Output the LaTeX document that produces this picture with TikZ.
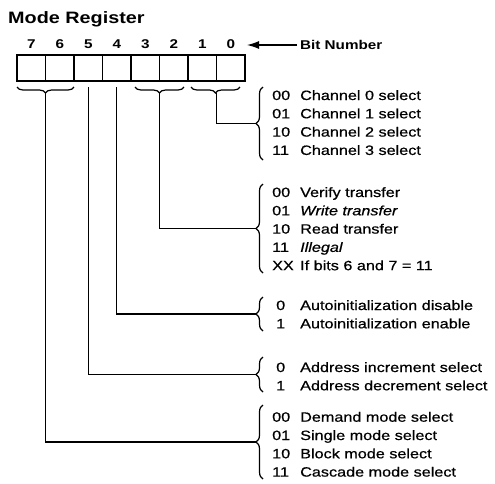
\documentclass[tikz,border=0pt]{standalone}
\usepackage{fontspec}
\setmainfont{Liberation Sans}[FakeStretch=1.2, UprightFeatures={FakeBold=0.6}, ItalicFeatures={FakeBold=0.6}]
\usetikzlibrary{arrows.meta, decorations.pathreplacing, positioning}
\tikzset{
	cell/.style={draw, line width=1.2pt, minimum width=28.5pt, minimum height=26pt, inner sep=0pt, outer sep=0pt},
	bitno/.style={font=\fontsize{12.7}{15}\selectfont\bfseries, inner sep=0pt},
	code/.style={font=\fontsize{13.5}{16}\selectfont, anchor=base west, inner sep=0pt},
	desc/.style={font=\fontsize{13.5}{16}\selectfont, anchor=base west, inner sep=0pt},
	wire/.style={line width=1.2pt},
	ubrace/.style={line width=1.2pt, decorate, decoration={brace, amplitude=6pt}},
	rbrace/.style={line width=1.2pt, decorate, decoration={brace, amplitude=7pt}},
	pointer/.style={line width=1.2pt, -{Latex[length=12pt, width=8pt]}},
}
\begin{document}
\begin{tikzpicture}[x=1pt, y=-1pt]
	\useasboundingbox (0,0) rectangle (495,483);
	\node[anchor=base west, inner sep=0pt, font=\fontsize{16.5}{19}\selectfont\bfseries] (title) at (8,23) {Mode Register};
	% the register cells, bit 7 on the left
	\foreach \b in {7,...,0} {
		\node[cell] (b\b) at ({31.25+28.5*(7-\b)},68) {};
		\node[bitno, above=6pt of b\b] (n\b) {\b};
	}
	\node[anchor=west, inner sep=3pt, font=\fontsize{12.7}{15}\selectfont\bfseries] (bitnum) at (297,45) {Bit Number};
	\draw[pointer] (bitnum.west) -- ([xshift=2pt]bitnum.west -| b0.east);
	% braces under the cells
	\draw[ubrace] ([yshift=-6pt]b6.south east) -- ([yshift=-6pt]b7.south west);
	\draw[ubrace] ([xshift=-4pt,yshift=-6pt]b2.south east) -- ([xshift=4pt,yshift=-6pt]b3.south west);
	\draw[ubrace] ([xshift=-5pt,yshift=-6pt]b0.south east) -- ([xshift=3pt,yshift=-6pt]b1.south west);
	\coordinate[below=12pt of b7.south east] (u76);
	\coordinate[below=12pt of b3.south east] (u32);
	\coordinate[below=12pt of b1.south east] (u10);
	\coordinate[below=6pt of b5.south] (u5);
	\coordinate[below=6pt of b4.south] (u4);
	% bits 1-0
	\draw[rbrace] (263,160) -- (263,87);
	\coordinate (k10) at (256,123.5);
	\draw[wire] (u10) |- (k10);
	\foreach \c/\t [count=\i] in {00/Channel 0 select, 01/Channel 1 select, 10/Channel 2 select, 11/Channel 3 select} {
		\node[code] (c10\i) at (272,{81.7+18.3*\i}) {\c};
		\node[desc] (d10\i) at (300,{81.7+18.3*\i}) {\t};
	}
	% bits 3-2
	\draw[rbrace] (263,273) -- (263,184);
	\coordinate (k32) at (256,228.5);
	\draw[wire] (u32) |- (k32);
	\foreach \c/\t [count=\i] in {00/Verify transfer, 01/\textit{Write transfer}, 10/Read transfer, 11/\textit{Illegal}, XX/If bits 6 and 7 = 11} {
		\node[code] (c32\i) at (272,{178.7+18.3*\i}) {\c};
		\node[desc] (d32\i) at (300,{178.7+18.3*\i}) {\t};
	}
	% bit 4
	\draw[rbrace] (263,331) -- (263,297);
	\coordinate (k4) at (256,314);
	\draw[wire] (u4) |- (k4);
	\foreach \c/\t [count=\i] in {0/Autoinitialization disable, 1/Autoinitialization enable} {
		\node[code] (c4\i) at (276,{291.7+18.3*\i}) {\c};
		\node[desc] (d4\i) at (300,{291.7+18.3*\i}) {\t};
	}
	% bit 5
	\draw[rbrace] (263,392) -- (263,357);
	\coordinate (k5) at (256,374.5);
	\draw[wire] (u5) |- (k5);
	\foreach \c/\t [count=\i] in {0/Address increment select, 1/Address decrement select} {
		\node[code] (c5\i) at (276,{353.7+18.3*\i}) {\c};
		\node[desc] (d5\i) at (300,{353.7+18.3*\i}) {\t};
	}
	% bits 7-6
	\draw[rbrace] (263,479) -- (263,405);
	\coordinate (k76) at (256,442);
	\draw[wire] (u76) |- (k76);
	\foreach \c/\t [count=\i] in {00/Demand mode select, 01/Single mode select, 10/Block mode select, 11/Cascade mode select} {
		\node[code] (c76\i) at (272,{403.4+18.3*\i}) {\c};
		\node[desc] (d76\i) at (300,{403.4+18.3*\i}) {\t};
	}
\end{tikzpicture}
\end{document}
